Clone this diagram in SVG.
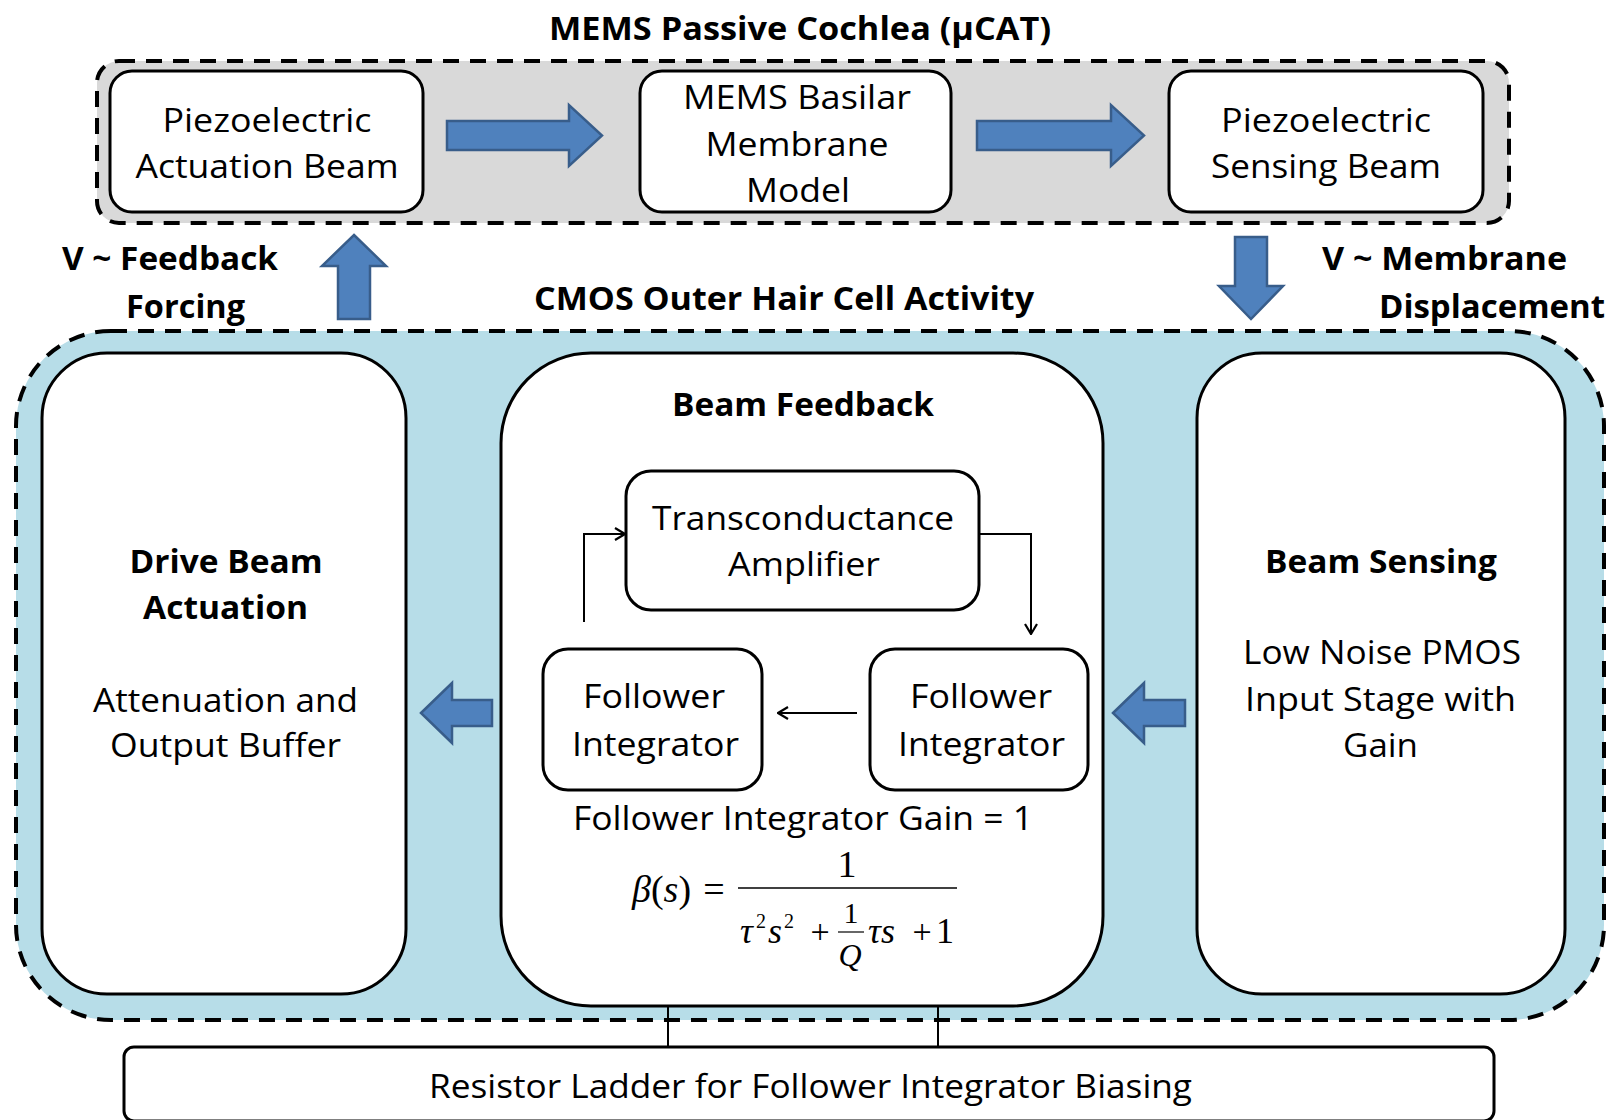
<svg xmlns="http://www.w3.org/2000/svg" width="1616" height="1120" viewBox="0 0 1616 1120">
<style>
.t{font-family:"Open Sans","Liberation Sans",sans-serif;font-size:32px;fill:#000;text-anchor:middle}
.b{font-weight:bold}
.m{font-family:"Liberation Serif","Times New Roman",serif;fill:#000}
.box{fill:#fff;stroke:#000;stroke-width:3}
.dash{stroke:#000;stroke-width:4;stroke-dasharray:16 11}
.blk{fill:#4F81BD;stroke:#385D8A;stroke-width:2.5;stroke-linejoin:miter}
.ln{fill:none;stroke:#000;stroke-width:2}
</style>
<defs>
<marker id="open" viewBox="0 0 12 14" refX="11" refY="7" markerWidth="12" markerHeight="14" markerUnits="userSpaceOnUse" orient="auto">
<path d="M1,1 L11,7 L1,13" fill="none" stroke="#000" stroke-width="2.2"/>
</marker>
</defs>
<rect width="1616" height="1120" fill="#fff"/>

<g id="mems-group">
<rect class="dash" x="97" y="61" width="1412" height="162" rx="22" fill="#D9D9D9"/>
<text class="t b" x="800" y="40" textLength="502" lengthAdjust="spacingAndGlyphs">MEMS Passive Cochlea (µCAT)</text>
</g>

<g id="actuation-beam">
<rect class="box" x="110" y="71" width="313" height="141" rx="22"/>
<text class="t" x="267" y="132" textLength="209" lengthAdjust="spacingAndGlyphs">Piezoelectric</text>
<text class="t" x="267" y="178" textLength="263" lengthAdjust="spacingAndGlyphs">Actuation Beam</text>
</g>

<g id="basilar-membrane">
<rect class="box" x="640" y="71" width="311" height="141" rx="22"/>
<text class="t" x="797" y="109" textLength="228" lengthAdjust="spacingAndGlyphs">MEMS Basilar</text>
<text class="t" x="797" y="156" textLength="183" lengthAdjust="spacingAndGlyphs">Membrane</text>
<text class="t" x="798" y="202" textLength="104" lengthAdjust="spacingAndGlyphs">Model</text>
</g>

<g id="sensing-beam">
<rect class="box" x="1169" y="71" width="314" height="141" rx="22"/>
<text class="t" x="1326" y="132" textLength="210" lengthAdjust="spacingAndGlyphs">Piezoelectric</text>
<text class="t" x="1326" y="178" textLength="230" lengthAdjust="spacingAndGlyphs">Sensing Beam</text>
</g>

<g id="labels">
<text class="t b" x="170" y="270" textLength="216" lengthAdjust="spacingAndGlyphs">V ~ Feedback</text>
<text class="t b" x="185.5" y="318" textLength="119" lengthAdjust="spacingAndGlyphs">Forcing</text>
<text class="t b" x="1444.5" y="270" textLength="245" lengthAdjust="spacingAndGlyphs">V ~ Membrane</text>
<text class="t b" x="1492" y="318" textLength="226" lengthAdjust="spacingAndGlyphs">Displacement</text>
</g>

<g id="cmos-group">
<rect class="dash" x="16" y="331" width="1588" height="689" rx="95" fill="#B7DDE8"/>
<text class="t b" x="784" y="310" textLength="500" lengthAdjust="spacingAndGlyphs">CMOS Outer Hair Cell Activity</text>
</g>

<g id="drive-beam">
<rect class="box" x="42" y="353" width="364" height="641" rx="65"/>
<text class="t b" x="226" y="573" textLength="193" lengthAdjust="spacingAndGlyphs">Drive Beam</text>
<text class="t b" x="225.5" y="619" textLength="165" lengthAdjust="spacingAndGlyphs">Actuation</text>
<text class="t" x="225.5" y="712" textLength="265" lengthAdjust="spacingAndGlyphs">Attenuation and</text>
<text class="t" x="225.5" y="757" textLength="231" lengthAdjust="spacingAndGlyphs">Output Buffer</text>
</g>

<g id="beam-feedback">
<rect class="box" x="501" y="353" width="602" height="653" rx="90"/>
<text class="t b" x="803" y="416" textLength="262" lengthAdjust="spacingAndGlyphs">Beam Feedback</text>
<text class="t" x="803" y="830" textLength="460" lengthAdjust="spacingAndGlyphs">Follower Integrator Gain = 1</text>
<g id="formula">
<text class="m" x="632" y="902" font-size="38"><tspan font-style="italic">β</tspan>(<tspan font-style="italic">s</tspan>)</text>
<text class="m" x="714" y="902" font-size="38" text-anchor="middle">=</text>
<text class="m" x="847" y="877" font-size="38" text-anchor="middle">1</text>
<line x1="738" y1="888" x2="957" y2="888" stroke="#000" stroke-width="1.5"/>
<text class="m" x="740" y="943" font-size="36" font-style="italic">τ</text>
<text class="m" x="756" y="928" font-size="20">2</text>
<text class="m" x="768" y="943" font-size="36" font-style="italic">s</text>
<text class="m" x="784" y="928" font-size="20">2</text>
<text class="m" x="820" y="943" font-size="34" text-anchor="middle">+</text>
<text class="m" x="851" y="923" font-size="30" text-anchor="middle">1</text>
<line x1="838" y1="932" x2="864" y2="932" stroke="#000" stroke-width="1.2"/>
<text class="m" x="850" y="966" font-size="32" font-style="italic" text-anchor="middle">Q</text>
<text class="m" x="868" y="943" font-size="36" font-style="italic">τs</text>
<text class="m" x="922" y="943" font-size="34" text-anchor="middle">+</text>
<text class="m" x="945" y="943" font-size="36" text-anchor="middle">1</text>
</g>
</g>

<g id="transconductance-amplifier">
<rect class="box" x="626" y="471" width="353" height="139" rx="25"/>
<text class="t" x="803" y="530" textLength="302" lengthAdjust="spacingAndGlyphs">Transconductance</text>
<text class="t" x="804" y="576" textLength="152" lengthAdjust="spacingAndGlyphs">Amplifier</text>
</g>

<g id="follower-integrator-left">
<rect class="box" x="543" y="649" width="219" height="141" rx="25"/>
<text class="t" x="654" y="708" textLength="142" lengthAdjust="spacingAndGlyphs">Follower</text>
<text class="t" x="655.5" y="756" textLength="167" lengthAdjust="spacingAndGlyphs">Integrator</text>
</g>

<g id="follower-integrator-right">
<rect class="box" x="870" y="649" width="218" height="141" rx="25"/>
<text class="t" x="981" y="708" textLength="142" lengthAdjust="spacingAndGlyphs">Follower</text>
<text class="t" x="981.5" y="756" textLength="167" lengthAdjust="spacingAndGlyphs">Integrator</text>
</g>

<g id="beam-sensing">
<rect class="box" x="1197" y="353" width="368" height="641" rx="65"/>
<text class="t b" x="1381" y="573" textLength="232" lengthAdjust="spacingAndGlyphs">Beam Sensing</text>
<text class="t" x="1382" y="664" textLength="278" lengthAdjust="spacingAndGlyphs">Low Noise PMOS</text>
<text class="t" x="1380.5" y="711" textLength="271" lengthAdjust="spacingAndGlyphs">Input Stage with</text>
<text class="t" x="1380.5" y="757" textLength="75" lengthAdjust="spacingAndGlyphs">Gain</text>
</g>

<g id="resistor-ladder">
<rect class="box" x="124" y="1047" width="1370" height="74" rx="10"/>
<text class="t" x="810.5" y="1098" textLength="763" lengthAdjust="spacingAndGlyphs">Resistor Ladder for Follower Integrator Biasing</text>
</g>

<g id="connectors">
<path class="blk" d="M447,121 L569,121 L569,105 L602,135.5 L569,166 L569,150 L447,150 Z"/>
<path class="blk" d="M977,121 L1111,121 L1111,105 L1144,135.5 L1111,166 L1111,150 L977,150 Z"/>
<path class="blk" d="M354,235 L386,266 L370,266 L370,319 L338,319 L338,266 L322,266 Z"/>
<path class="blk" d="M1235,237 L1267,237 L1267,286 L1283,286 L1251,319 L1219,286 L1235,286 Z"/>
<path class="blk" d="M421,713 L452,683 L452,700 L492,700 L492,726 L452,726 L452,743 Z"/>
<path class="blk" d="M1113,713 L1144,683 L1144,700 L1185,700 L1185,726 L1144,726 L1144,743 Z"/>
<path class="ln" d="M584,622 L584,534 L625,534" marker-end="url(#open)"/>
<path class="ln" d="M979,534 L1031,534 L1031,634" marker-end="url(#open)"/>
<path class="ln" d="M857,713 L778,713" marker-end="url(#open)"/>
<line class="ln" x1="668" y1="1006" x2="668" y2="1047"/>
<line class="ln" x1="938" y1="1006" x2="938" y2="1047"/>
</g>
</svg>
